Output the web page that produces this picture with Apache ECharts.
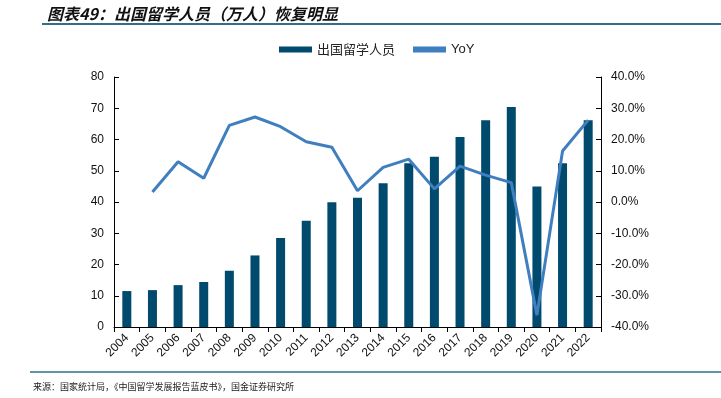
<!DOCTYPE html>
<html>
<head>
<meta charset="utf-8">
<script src="https://cdn.jsdelivr.net/npm/echarts@6/dist/echarts.min.js"></script>
<style>
  html, body { margin: 0; padding: 0; background: #fff; }
  #main { width: 721px; height: 398px; }
</style>
</head>
<body>
<div id="main"></div>
<script>
// 年份
var years = ["2004", "2005", "2006", "2007", "2008", "2009", "2010", "2011", "2012", "2013",
  "2014", "2015", "2016", "2017", "2018", "2019", "2020", "2021", "2022"];
// 出国留学人员（万人）
var students = [11.5, 11.8, 13.4, 14.4, 18.0, 22.9, 28.5, 34.0, 39.9, 41.4,
  46.0, 52.4, 54.5, 60.8, 66.2, 70.4, 45.0, 52.4, 66.2];
// YoY（%）
var yoy = [null, 3.2, 12.9, 7.6, 24.5, 27.2, 24.1, 19.3, 17.5, 3.6,
  11.1, 13.7, 4.2, 11.5, 8.6, 6.2, -36.2, 16.3, 26.2];

var cnFont = "'Noto Sans CJK SC', sans-serif";
var numFont = "'Liberation Sans', Arial, sans-serif";

var myChart = echarts.init(document.getElementById("main"));
myChart.setOption({
  animation: false,
  title: {
    text: "图表49：出国留学人员（万人）恢复明显",
    left: 42,
    top: 1,
    textStyle: { fontFamily: cnFont, fontSize: 16, fontWeight: "bold", fontStyle: "italic", color: "#111" }
  },
  graphic: [
    { type: "line", shape: { x1: 42, y1: 24, x2: 721, y2: 24 }, style: { stroke: "#2f6f8c", lineWidth: 2 } },
    { type: "line", shape: { x1: 30, y1: 372, x2: 721, y2: 372 }, style: { stroke: "#2f6f8c", lineWidth: 1.5 } },
    {
      type: "text", left: 33, top: 382,
      style: { text: "来源：国家统计局，《中国留学发展报告蓝皮书》，国金证券研究所", font: "9px " + cnFont, fill: "#222" }
    }
  ],
  legend: {
    top: 38,
    left: 274,
    itemGap: 18,
    itemWidth: 33,
    itemHeight: 6,
    textStyle: { fontFamily: cnFont, fontSize: 13, color: "#222" },
    data: [
      { name: "出国留学人员", icon: "rect" },
      { name: "YoY", icon: "rect", itemStyle: { color: "#3f7fc0" }, textStyle: { fontFamily: numFont, fontSize: 13 } }
    ]
  },
  grid: { left: 114, right: 120, top: 77, bottom: 71 },
  xAxis: {
    type: "category",
    data: years,
    axisLine: { lineStyle: { color: "#000" } },
    axisTick: { show: true, lineStyle: { color: "#000" } },
    axisLabel: { rotate: 45, color: "#111", fontFamily: numFont, fontSize: 12, margin: 9, interval: 0 }
  },
  yAxis: [
    {
      type: "value", min: 0, max: 80, interval: 10,
      axisLine: { show: true, lineStyle: { color: "#000" } },
      axisTick: { show: true, inside: true, lineStyle: { color: "#000" } },
      splitLine: { show: false },
      axisLabel: { color: "#111", fontFamily: numFont, fontSize: 12, margin: 10 }
    },
    {
      type: "value", min: -40, max: 40, interval: 10,
      axisLine: { show: true, lineStyle: { color: "#000" } },
      axisTick: { show: true, inside: true, lineStyle: { color: "#000" } },
      splitLine: { show: false },
      axisLabel: {
        color: "#111", fontFamily: numFont, fontSize: 12, margin: 10,
        formatter: function (v) { return v.toFixed(1) + "%"; }
      }
    }
  ],
  series: [
    {
      name: "出国留学人员",
      type: "bar",
      data: students,
      barWidth: 9,
      itemStyle: { color: "#004a6e" }
    },
    {
      name: "YoY",
      type: "line",
      yAxisIndex: 1,
      data: yoy,
      symbol: "none",
      lineStyle: { color: "#3f7fc0", width: 3 },
      itemStyle: { color: "#3f7fc0" }
    }
  ]
});
</script>
</body>
</html>
